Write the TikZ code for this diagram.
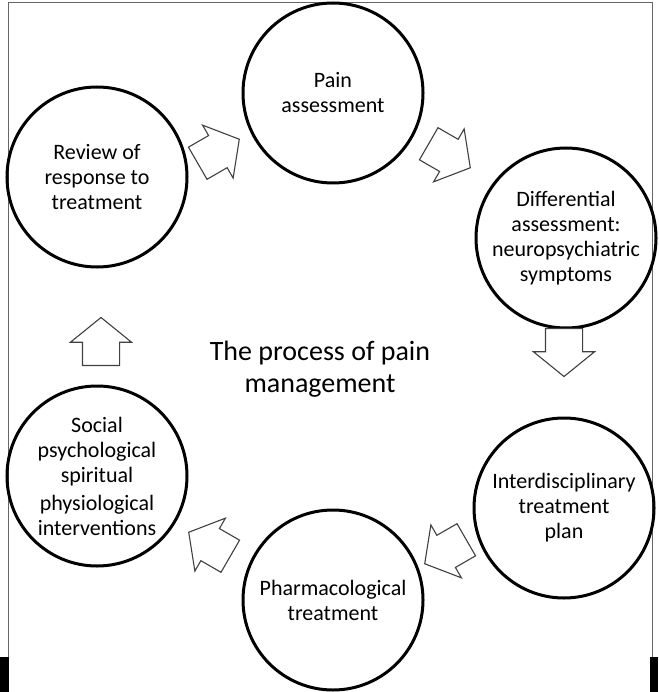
\documentclass[tikz,border=0pt]{standalone}
\usepackage{fontspec}
\setmainfont{Carlito}
\usetikzlibrary{shapes.arrows,positioning}

\tikzset{
  step circle/.style = {circle, draw=black, line width=3pt, minimum size=180, inner sep=0pt,
                        align=center, font=\fontsize{22}{25}\selectfont},
  cycle arrow/.style = {single arrow, draw=black!75, line width=1.1pt, fill=white,
                        minimum height=48, minimum width=60, inner xsep=0pt, inner ysep=18pt,
                        single arrow head extend=12, single arrow tip angle=102}
}

\begin{document}
\begin{tikzpicture}[x=1pt, y=-1pt]
  \useasboundingbox (0,0) rectangle (658,692);

  % frame
  \fill[black] (0,657) rectangle (9,692);
  \fill[black] (650,657) rectangle (658,692);
  \draw[black!60, line width=1pt] (8,657) -- (8,3) -- (652,3) -- (652,657);

  % steps of the cycle
  \node[step circle] (pain)   at (333,93)  {Pain\\assessment};
  \node[step circle] (diff)   at (566,238) {Differential\\assessment:\\neuropsychiatric\\symptoms};
  \node[step circle] (inter)  at (564,508) {Interdisciplinary\\treatment\\plan};
  \node[step circle] (pharm)  at (333,600) {Pharmacological\\treatment};
  \node[step circle] (social) at (97,476)  {Social\\psychological\\spiritual\\[3pt]physiological\\interventions};
  \node[step circle] (review) at (97,177)  {Review of\\response to\\treatment};

  \node[align=center, font=\fontsize{28}{32}\selectfont] (title) at (320,369)
       {The process of pain\\management};

  % arrows between the steps
  \node[cycle arrow, rotate=30]  (a1) at (212,155) {};
  \node[cycle arrow, rotate=-30] (a2) at (443,152) {};
  \node[cycle arrow, rotate=-90] (a3) at (564,345) {};
  \node[cycle arrow, rotate=210] (a4) at (452,548) {};
  \node[cycle arrow, rotate=150] (a5) at (216,548) {};
  \node[cycle arrow, rotate=90]  (a6) at (101,349) {};
\end{tikzpicture}
\end{document}
